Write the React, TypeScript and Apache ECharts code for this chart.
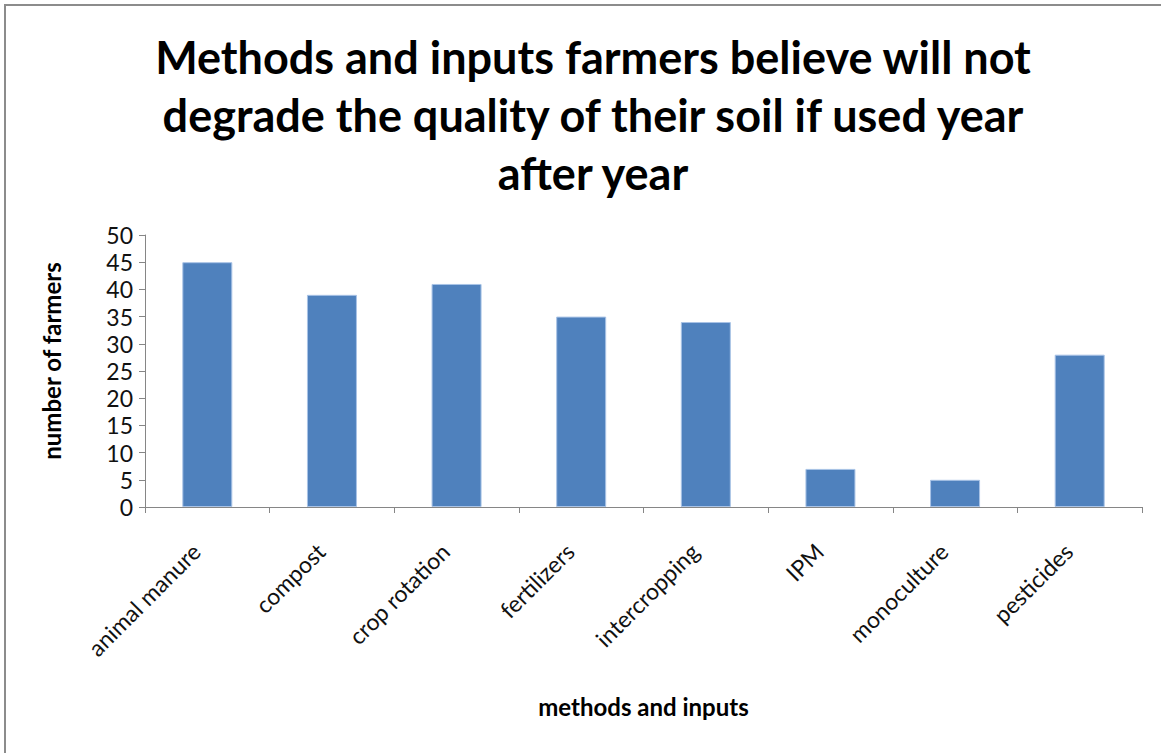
import React, { useEffect, useRef } from "react";
import * as echarts from "echarts";

const categories = [
  "animal manure",
  "compost",
  "crop rotation",
  "fertilizers",
  "intercropping",
  "IPM",
  "monoculture",
  "pesticides",
];
const farmerCounts = [45, 39, 41, 35, 34, 7, 5, 28];
const yMin = 0;
const yMax = 50;
const yStep = 5;

const titleText =
  "Methods and inputs farmers believe will not\ndegrade the quality of their soil if used year\nafter year";

const FONT = "Lato, 'Open Sans', sans-serif";

export default function App() {
  const ref = useRef<HTMLDivElement>(null);

  useEffect(() => {
    document.body.style.margin = "0";
    if (!ref.current) return;
    const chart = echarts.init(ref.current, null, { renderer: "svg" });
    chart.setOption({
      animation: false,
      backgroundColor: "#ffffff",
      title: {
        text: titleText,
        left: 588,
        textAlign: "center",
        top: 23,
        textStyle: {
          fontFamily: FONT,
          fontWeight: "bold",
          fontSize: 45,
          lineHeight: 58,
          color: "#000",
        },
      },
      graphic: [
        {
          type: "rect",
          shape: { x: 5, y: 5, width: 1200, height: 800 },
          style: { fill: "none", stroke: "#8c8c8c", lineWidth: 2 },
          silent: true,
        },
      ],
      grid: { left: 145, right: 19, top: 235, bottom: 246, containLabel: false },
      xAxis: {
        type: "category",
        data: categories,
        name: "methods and inputs",
        nameLocation: "middle",
        nameGap: 187,
        nameTextStyle: {
          fontFamily: FONT,
          fontWeight: "bold",
          fontSize: 24,
          color: "#000",
        },
        axisLine: { lineStyle: { color: "#868686", width: 1 } },
        axisTick: { show: true, alignWithLabel: false, length: 6, lineStyle: { color: "#868686" } },
        axisLabel: {
          rotate: 45,
          interval: 0,
          margin: 29,
          padding: [0, 16, 0, 0],
          fontFamily: FONT,
          fontSize: 23,
          color: "#111",
        },
      },
      yAxis: {
        type: "value",
        min: yMin,
        max: yMax,
        interval: yStep,
        name: "number of farmers",
        nameLocation: "middle",
        nameGap: 82,
        nameTextStyle: {
          fontFamily: FONT,
          fontWeight: "bold",
          fontSize: 24,
          color: "#000",
          padding: [0, 0, 0, 20],
        },
        axisLine: { show: true, lineStyle: { color: "#868686", width: 1 } },
        axisTick: { show: true, length: 6, lineStyle: { color: "#868686" } },
        splitLine: { show: false },
        axisLabel: {
          margin: 12,
          fontFamily: FONT,
          fontSize: 23,
          color: "#111",
        },
      },
      series: [
        {
          type: "bar",
          data: farmerCounts,
          barWidth: 50,
          itemStyle: {
            color: "#4F81BD",
            borderColor: "#a9c3e6",
            borderWidth: 1,
          },
        },
      ],
    });
    return () => chart.dispose();
  }, []);

  return (
    <div
      ref={ref}
      style={{ position: "absolute", left: 0, top: 0, width: 1161, height: 753 }}
    />
  );
}
